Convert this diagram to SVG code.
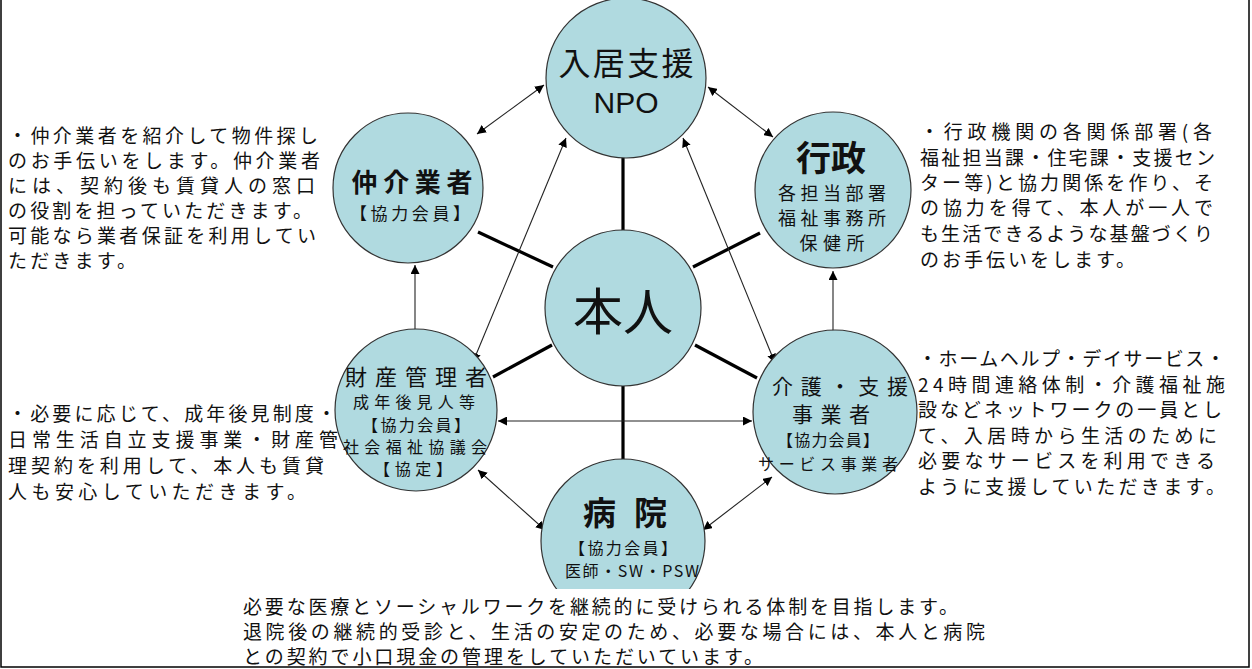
<svg xmlns="http://www.w3.org/2000/svg" width="1252" height="669" viewBox="0 0 1252 669">
<style>
.node circle{fill:#b0dae0;stroke:#333;stroke-width:1.2}
text{font-family:"Noto Sans CJK JP","Liberation Sans",sans-serif;fill:#111}
.c{text-anchor:middle;dominant-baseline:central}
.b{font-weight:bold}
.desc{font-size:19px;dominant-baseline:central}
.spoke{stroke:#000;stroke-width:3.2}
.link{stroke:#222;stroke-width:1.1;fill:none;marker-start:url(#ah);marker-end:url(#ah)}
</style>
<defs>
<marker id="ah" viewBox="0 0 10 10" refX="10" refY="5" markerWidth="9" markerHeight="9" markerUnits="userSpaceOnUse" orient="auto-start-reverse">
<path d="M0,0 L10,5 L0,10 z" fill="#000"/>
</marker>
</defs>
<rect x="1" y="-2" width="1248" height="669" fill="#fff" stroke="#000" stroke-width="1.5"/>
<g id="connectors">
<line class="spoke" x1="623" y1="150" x2="623" y2="232"/>
<line class="spoke" x1="478" y1="232" x2="553" y2="267"/>
<line class="spoke" x1="760" y1="233" x2="693" y2="267"/>
<line class="spoke" x1="493" y1="377" x2="552" y2="345"/>
<line class="spoke" x1="757" y1="378" x2="695" y2="345"/>
<line class="spoke" x1="623" y1="384" x2="623" y2="460"/>
<line class="link" x1="544" y1="85" x2="477" y2="134"/>
<line class="link" x1="708" y1="87" x2="773" y2="137"/>
<line class="link" x1="415" y1="265" x2="415" y2="340"/>
<line class="link" x1="833" y1="271" x2="833" y2="341"/>
<line class="link" x1="498" y1="421" x2="752" y2="421"/>
<line class="link" x1="566" y1="138" x2="473" y2="362"/>
<line class="link" x1="683" y1="138" x2="775" y2="363"/>
<line class="link" x1="478" y1="470" x2="545" y2="530"/>
<line class="link" x1="772" y1="477" x2="703" y2="530"/>
</g>
<g id="npo" class="node">
<circle cx="626" cy="78" r="80"/>
<text class="c" x="626" y="61" font-size="32" textLength="135">入居支援</text>
<text class="c" x="626" y="102" font-size="30" style="font-family:'Liberation Sans',sans-serif">NPO</text>
</g>
<g id="broker" class="node">
<circle cx="408" cy="188" r="75"/>
<text class="c b" x="412" y="180" font-size="26" textLength="121">仲介業者</text>
<text class="c" x="410" y="212" font-size="17" textLength="120">【協力会員】</text>
</g>
<g id="gov" class="node">
<circle cx="833" cy="190" r="78"/>
<text class="c b" x="831" y="155" font-size="35">行政</text>
<text class="c" x="832" y="192" font-size="18" textLength="108">各担当部署</text>
<text class="c" x="832" y="217" font-size="18" textLength="108">福祉事務所</text>
<text class="c" x="832" y="242" font-size="18" textLength="65">保健所</text>
</g>
<g id="self" class="node">
<circle cx="623" cy="308" r="78"/>
<text class="c" x="623" y="308" font-size="50">本人</text>
</g>
<g id="property" class="node">
<circle cx="416" cy="410" r="81"/>
<text class="c" x="416" y="375" font-size="22" textLength="142">財産管理者</text>
<text class="c" x="414" y="401" font-size="16" textLength="122">成年後見人等</text>
<text class="c" x="416" y="424" font-size="16" textLength="108">【協力会員】</text>
<text class="c" x="415" y="446" font-size="16" textLength="144">社会福祉協議会</text>
<text class="c" x="413" y="468" font-size="16" textLength="78">【協定】</text>
</g>
<g id="care" class="node">
<circle cx="835" cy="412" r="82"/>
<text class="c" x="840" y="385" font-size="21" textLength="136">介護・支援</text>
<text class="c" x="831" y="413" font-size="21" textLength="78">事業者</text>
<text class="c" x="828" y="439" font-size="16" textLength="102">【協力会員】</text>
<text class="c" x="828" y="463" font-size="16" textLength="140">サービス事業者</text>
</g>
<g id="hospital" class="node">
<circle cx="623" cy="541" r="82"/>
<text class="c b" x="625" y="511" font-size="33" textLength="84">病院</text>
<text class="c" x="623" y="547" font-size="16" textLength="108">【協力会員】</text>
<text class="c" x="632" y="570" font-size="16" textLength="134">医師・SW・PSW</text>
</g>
<rect x="238" y="589" width="750" height="70" fill="#fff"/>
<g id="texts">
<text class="desc" x="8" y="134" textLength="310">・仲介業者を紹介して物件探し</text>
<text class="desc" x="8" y="159" textLength="312">のお手伝いをします。仲介業者</text>
<text class="desc" x="8" y="184" textLength="307">には、契約後も賃貸人の窓口</text>
<text class="desc" x="8" y="209" textLength="304">の役割を担っていただきます。</text>
<text class="desc" x="8" y="234" textLength="308">可能なら業者保証を利用してい</text>
<text class="desc" x="8" y="259" textLength="128">ただきます。</text>
<text class="desc" x="920" y="130" textLength="292">・行政機関の各関係部署(各</text>
<text class="desc" x="920" y="156" textLength="295">福祉担当課・住宅課・支援セン</text>
<text class="desc" x="920" y="181" textLength="293">ター等)と協力関係を作り、そ</text>
<text class="desc" x="920" y="206" textLength="293">の協力を得て、本人が一人で</text>
<text class="desc" x="920" y="232" textLength="293">も生活できるような基盤づくり</text>
<text class="desc" x="920" y="258" textLength="215">のお手伝いをします。</text>
<text class="desc" x="8" y="412" textLength="328">・必要に応じて、成年後見制度・</text>
<text class="desc" x="8" y="438" textLength="330">日常生活自立支援事業・財産管</text>
<text class="desc" x="8" y="464" textLength="316">理契約を利用して、本人も賃貸</text>
<text class="desc" x="8" y="490" textLength="298">人も安心していただきます。</text>
<text class="desc" x="918" y="357" textLength="307">・ホームヘルプ・デイサービス・</text>
<text class="desc" x="918" y="383" textLength="307">24時間連絡体制・介護福祉施</text>
<text class="desc" x="918" y="408" textLength="304">設などネットワークの一員とし</text>
<text class="desc" x="918" y="434" textLength="299">て、入居時から生活のために</text>
<text class="desc" x="918" y="459" textLength="297">必要なサービスを利用できる</text>
<text class="desc" x="918" y="485" textLength="307">ように支援していただきます。</text>
<text class="desc" x="243" y="605" textLength="715">必要な医療とソーシャルワークを継続的に受けられる体制を目指します。</text>
<text class="desc" x="243" y="630" textLength="742">退院後の継続的受診と、生活の安定のため、必要な場合には、本人と病院</text>
<text class="desc" x="243" y="655" textLength="520">との契約で小口現金の管理をしていただいています。</text>
</g>
</svg>
